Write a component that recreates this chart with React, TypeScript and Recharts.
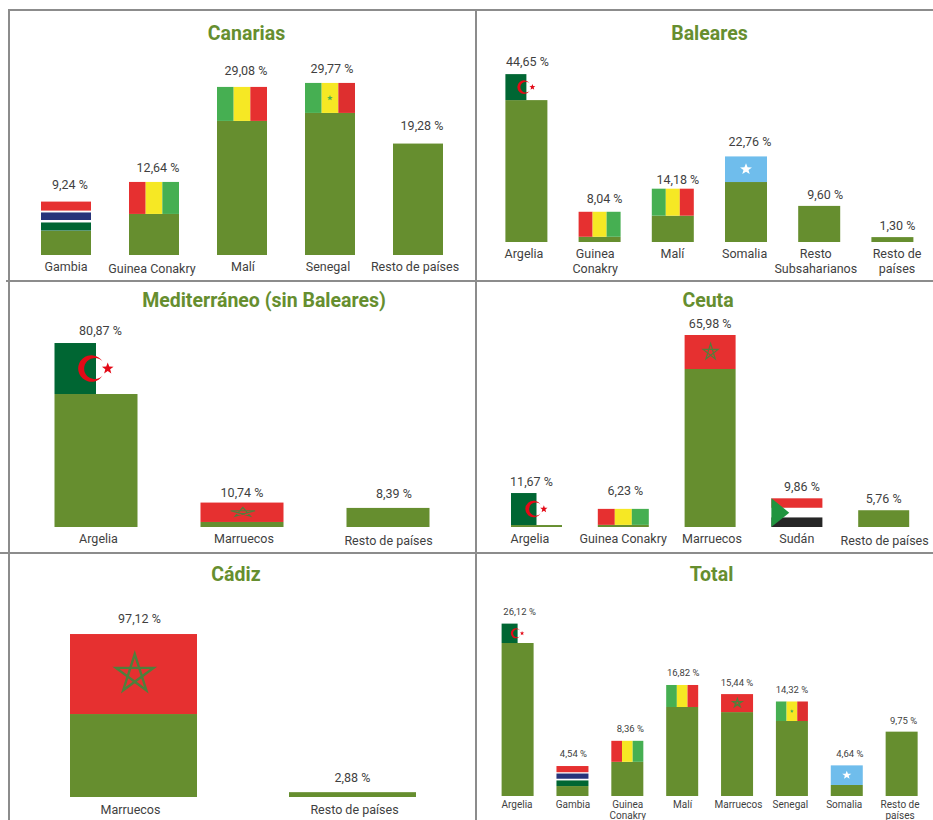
import { Bar, BarChart, LabelList, XAxis, YAxis } from "recharts";

// Country share of arrivals per route, one small bar chart per route.
const canariasCategories = ["Gambia", "Guinea Conakry", "Malí", "Senegal", "Resto de países"];
const canariasValues = [9.24, 12.64, 29.08, 29.77, 19.28];
const canariasFlags = ["gambia", "guinea", "mali", "senegal", null];

const balearesCategories = ["Argelia", "Guinea\nConakry", "Malí", "Somalia", "Resto\nSubsaharianos", "Resto de\npaíses"];
const balearesValues = [44.65, 8.04, 14.18, 22.76, 9.6, 1.3];
const balearesFlags = ["algeria", "guinea", "mali", "somalia", null, null];

const medCategories = ["Argelia", "Marruecos", "Resto de países"];
const medValues = [80.87, 10.74, 8.39];
const medFlags = ["algeria", "morocco", null];

const ceutaCategories = ["Argelia", "Guinea Conakry", "Marruecos", "Sudán", "Resto de países"];
const ceutaValues = [11.67, 6.23, 65.98, 9.86, 5.76];
const ceutaFlags = ["algeria", "guinea", "morocco", "sudan", null];

const cadizCategories = ["Marruecos", "Resto de países"];
const cadizValues = [97.12, 2.88];
const cadizFlags = ["morocco", null];

const totalCategories = ["Argelia", "Gambia", "Guinea\nConakry", "Malí", "Marruecos", "Senegal", "Somalia", "Resto de\npaíses"];
const totalValues = [26.12, 4.54, 8.36, 16.82, 15.44, 14.32, 4.64, 9.75];
const totalFlags = ["algeria", "gambia", "guinea", "mali", "morocco", "senegal", "somalia", null];

const BAR_GREEN = "#668e2f";
const TEXT = "#3f3f3f";
const RULE = "#8c8c8c";
const RED = "#e63030";
const YELLOW = "#f6e824";
const LEAF = "#46af52";
const DARK_GREEN = "#006633";
const FONT = "Roboto, sans-serif";

// step is in tenths of a turn: 1 with an inner radius gives a filled star, 4 a pentagram
function starPoints(cx: number, cy: number, rx: number, ry: number, step: number, inner?: number) {
  const pts: string[] = [];
  const n = inner ? 10 : 5;
  for (let i = 0; i < n; i++) {
    const a = -Math.PI / 2 + (i * step * Math.PI) / 5;
    const k = inner && i % 2 ? inner : 1;
    pts.push(`${cx + rx * k * Math.cos(a)},${cy + ry * k * Math.sin(a)}`);
  }
  return pts.join(" ");
}

function verticalThirds(x: number, y: number, w: number, h: number, colors: string[]) {
  return colors.map((c, i) => <rect key={c} x={x + (i * w) / 3} y={y} width={w / 3} height={h} fill={c} />);
}

function Flag({ kind, x, y, w, h }: { kind: string; x: number; y: number; w: number; h: number }) {
  const mx = x + w / 2;
  const my = y + h / 2;
  switch (kind) {
    case "gambia":
      return (
        <g>
          <rect x={x} y={y} width={w} height={h} fill="#fff" />
          <rect x={x} y={y} width={w} height={h * 0.31} fill={RED} />
          <rect x={x} y={y + h * 0.375} width={w} height={h * 0.26} fill="#27347a" />
          <rect x={x} y={y + h * 0.72} width={w} height={h * 0.28} fill={DARK_GREEN} />
        </g>
      );
    case "guinea":
      return <g>{verticalThirds(x, y, w, h, [RED, YELLOW, LEAF])}</g>;
    case "mali":
      return <g>{verticalThirds(x, y, w, h, [LEAF, YELLOW, RED])}</g>;
    case "senegal":
      return (
        <g>
          {verticalThirds(x, y, w, h, [LEAF, YELLOW, "#de2f2f"])}
          <polygon points={starPoints(mx, my, w * 0.06, h * 0.1, 1, 0.42)} fill={LEAF} />
        </g>
      );
    case "somalia":
      return (
        <g>
          <rect x={x} y={y} width={w} height={h} fill="#6fbdec" />
          <polygon points={starPoints(mx, my, w * 0.15, h * 0.23, 1, 0.42)} fill="#fff" />
        </g>
      );
    case "morocco":
      return (
        <g>
          <rect x={x} y={y} width={w} height={h} fill={RED} />
          <polygon
            points={starPoints(mx + w * 0.01, my, w * 0.155, h * 0.25, 4)}
            fill="none"
            stroke="#4f7f3c"
            strokeWidth={Math.max(1.2, h * 0.03)}
          />
        </g>
      );
    case "sudan":
      return (
        <g>
          <rect x={x} y={y} width={w} height={h / 3} fill={RED} />
          <rect x={x} y={y + h / 3} width={w} height={h / 3} fill="#fff" />
          <rect x={x} y={y + (2 * h) / 3} width={w} height={h / 3} fill="#262626" />
          <polygon points={`${x},${y} ${x + w * 0.35},${my} ${x},${y + h}`} fill="#20943f" />
        </g>
      );
    case "algeria": {
      const R = h * 0.26;
      const r = R * 0.8;
      const cx = mx - h * 0.09;
      const hx = cx + R * 0.845;
      const hy = R * 0.535;
      return (
        <g>
          <rect x={x} y={y} width={w / 2} height={h} fill={DARK_GREEN} />
          <path
            d={`M${hx} ${my - hy}A${R} ${R} 0 1 0 ${hx} ${my + hy}A${r} ${r} 0 1 1 ${hx} ${my - hy}Z`}
            fill="#e30a17"
          />
          <polygon points={starPoints(mx + h * 0.23, my, h * 0.12, h * 0.12, 1, 0.42)} fill="#e30a17" />
        </g>
      );
    }
    default:
      return null;
  }
}

type PanelProps = {
  title: string;
  titleX: number;
  titleY: number;
  categories: string[];
  values: number[];
  flags: (string | null)[];
  flagHeights: number[];
  box: [number, number, number, number];
  band: [number, number];
  baseline: number;
  pxPerUnit: number;
  barSize: number;
  labelDx: number[];
  labelDy: number[];
  tickDx: number[];
  tickDyEach?: number[];
  labelGap?: number;
  labelSize?: number;
  tickSize?: number;
  tickDy?: number;
  lineHeight?: number;
};

function Panel({
  title,
  titleX,
  titleY,
  categories,
  values,
  flags,
  flagHeights,
  box,
  band,
  baseline,
  pxPerUnit,
  barSize,
  labelDx,
  labelDy,
  tickDx,
  tickDyEach,
  labelGap = 10,
  labelSize = 12.5,
  tickSize = 12.5,
  tickDy = 16,
  lineHeight = 15,
}: PanelProps) {
  const [bx, by, bw, bh] = box;
  const data = categories.map((name, i) => ({ name, value: values[i] }));
  const maxValue = Math.max(...values);
  const margin = {
    top: baseline - maxValue * pxPerUnit - by,
    bottom: by + bh - baseline - 20,
    left: band[0] - bx,
    right: bx + bw - band[1],
  };

  const renderShape = (p: any) => {
    const kind = flags[p.index];
    const flagH = kind ? Math.min(flagHeights[p.index], p.height) : 0;
    return (
      <g>
        <rect x={p.x} y={p.y + flagH} width={p.width} height={p.height - flagH} fill={BAR_GREEN} />
        {kind && <Flag kind={kind} x={p.x} y={p.y} w={p.width} h={flagH} />}
      </g>
    );
  };

  const renderTick = (p: any) => {
    const lines = String(p.payload.value).split("\n");
    const tx = p.x + tickDx[p.index];
    return (
      <text
        x={tx}
        y={p.y + tickDy + (tickDyEach ? tickDyEach[p.index] : 0)}
        textAnchor="middle"
        fontFamily={FONT}
        fontSize={tickSize}
        fill={TEXT}
      >
        {lines.map((line, i) => (
          <tspan key={line} x={tx} dy={i ? lineHeight : 0}>
            {line}
          </tspan>
        ))}
      </text>
    );
  };

  const renderLabel = (p: any) => (
    <text
      x={p.x + p.width / 2 + labelDx[p.index]}
      y={p.y - labelGap + labelDy[p.index]}
      textAnchor="middle"
      fontFamily={FONT}
      fontSize={labelSize}
      fill={TEXT}
    >
      {`${Number(p.value).toFixed(2).replace(".", ",")} %`}
    </text>
  );

  return (
    <>
      <div
        style={{
          position: "absolute",
          left: titleX - 200,
          width: 400,
          top: titleY - 19,
          height: 24,
          lineHeight: "24px",
          textAlign: "center",
          fontFamily: FONT,
          fontWeight: 700,
          fontSize: 19.5,
          color: BAR_GREEN,
        }}
      >
        {title}
      </div>
      <div style={{ position: "absolute", left: bx, top: by }}>
        <BarChart width={bw} height={bh} data={data} margin={margin}>
          <XAxis
            dataKey="name"
            axisLine={false}
            tickLine={false}
            tickSize={0}
            tickMargin={0}
            height={20}
            interval={0}
            tick={renderTick}
          />
          <YAxis hide domain={[0, maxValue]} />
          <Bar dataKey="value" barSize={barSize} shape={renderShape} isAnimationActive={false}>
            <LabelList dataKey="value" content={renderLabel} />
          </Bar>
        </BarChart>
      </div>
    </>
  );
}

function Rule({ x, y, w, h }: { x: number; y: number; w: number; h: number }) {
  return <div style={{ position: "absolute", left: x, top: y, width: w, height: h, background: RULE }} />;
}

export default function App() {
  return (
    <div
      style={{
        position: "absolute",
        left: 0,
        top: 0,
        width: 933,
        height: 820,
        overflow: "hidden",
        background: "#fff",
      }}
    >
      <Rule x={8} y={9} w={925} h={1.5} />
      <Rule x={6} y={280} w={927} h={1.5} />
      <Rule x={0} y={552} w={933} h={1.5} />
      <Rule x={8} y={9} w={1.5} h={811} />
      <Rule x={475} y={9} w={1.5} h={811} />

      <Panel
        title="Canarias"
        titleX={246.5}
        titleY={40.5}
        categories={canariasCategories}
        values={canariasValues}
        flags={canariasFlags}
        flagHeights={[29, 32, 34, 30, 0]}
        box={[10, 11, 465, 269]}
        band={[22, 462]}
        baseline={255}
        pxPerUnit={5.78}
        barSize={50}
        labelDx={[4, 4, 4, 2, 4]}
        labelDy={[-3, 0, -1.5, 0.5, -4]}
        tickDx={[0, -2, 1, -2, -3]}
        tickDyEach={[0, 2, 0, 0, 0]}
      />
      <Panel
        title="Baleares"
        titleX={709.5}
        titleY={40.5}
        categories={balearesCategories}
        values={balearesValues}
        flags={balearesFlags}
        flagHeights={[26, 25, 27, 25.6, 0, 0]}
        box={[477, 11, 456, 269]}
        band={[489.4, 928.6]}
        baseline={242}
        pxPerUnit={3.76}
        barSize={42}
        labelDx={[1, 5, 5, 4, 6, 5]}
        labelDy={[1.5, 1.5, 5, 0, 3.5, 2.7]}
        tickDx={[-2, -4, 0, -1, -3, 5]}
      />
      <Panel
        title="Mediterráneo (sin Baleares)"
        titleX={264}
        titleY={307.5}
        categories={medCategories}
        values={medValues}
        flags={medFlags}
        flagHeights={[51, 19.4, 0]}
        box={[10, 282, 465, 270]}
        band={[22.5, 460.5]}
        baseline={527}
        pxPerUnit={2.275}
        barSize={83}
        labelDx={[4.5, 0, 6]}
        labelDy={[1.5, 4, 0]}
        tickDx={[3, 2.5, 1]}
        tickDyEach={[0, 0, 2]}
      />
      <Panel
        title="Ceuta"
        titleX={708}
        titleY={307.5}
        categories={ceutaCategories}
        values={ceutaValues}
        flags={ceutaFlags}
        flagHeights={[32, 16, 34, 29, 0]}
        box={[477, 282, 456, 270]}
        band={[493, 927]}
        baseline={527}
        pxPerUnit={2.91}
        barSize={51}
        labelDx={[-5, 2, 0, 5, 0]}
        labelDy={[2.5, -4, 3.5, 2.5, 2.6]}
        tickDx={[-6.5, 0, 2, 0, 1]}
        tickDyEach={[0, 0, 0, 0, 2]}
      />
      <Panel
        title="Cádiz"
        titleX={236}
        titleY={581.5}
        categories={cadizCategories}
        values={cadizValues}
        flags={cadizFlags}
        flagHeights={[80, 0]}
        box={[10, 554, 465, 266]}
        band={[24, 462]}
        baseline={797}
        pxPerUnit={1.678}
        barSize={127}
        labelDx={[6, 0]}
        labelDy={[-1, 0]}
        tickDx={[-3, 2]}
        tickDy={17}
      />
      <Panel
        title="Total"
        titleX={711.5}
        titleY={581.5}
        categories={totalCategories}
        values={totalValues}
        flags={totalFlags}
        flagHeights={[19.4, 20, 21, 22, 18, 19.5, 19.6, 0]}
        box={[477, 554, 456, 266]}
        band={[490.6, 929.5]}
        baseline={796}
        pxPerUnit={6.6}
        barSize={32}
        labelDx={[2, 1, 3, 1, 0, 0, 3, 2]}
        labelDy={[1, 1, 1, 1, 2, 2, 1.5, 2]}
        tickDx={[-1, 0, 0, 0, 1, -2, -3, -2]}
        labelSize={9.5}
        tickSize={10}
        tickDy={12}
        lineHeight={11}
      />
    </div>
  );
}
